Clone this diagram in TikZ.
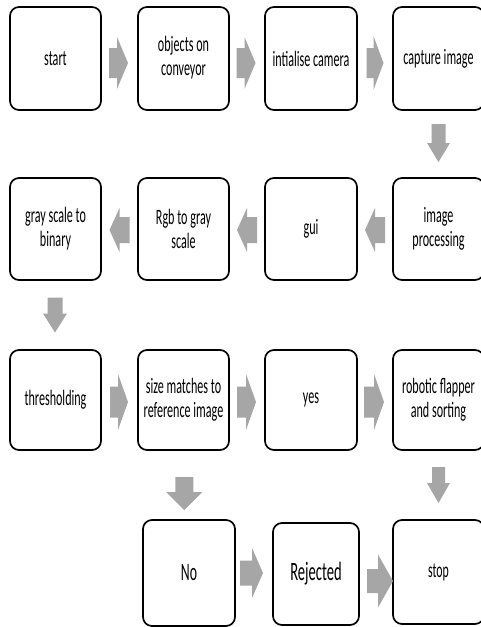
\documentclass[tikz,border=0pt]{standalone}
\usepackage{fontspec}
\setmainfont{Carlito}[FakeStretch=0.55]
\usetikzlibrary{calc}
\definecolor{arrowgray}{RGB}{166,166,166}
\tikzset{
  x=1pt, y=-1pt,
  stepbox/.style={draw=black, line width=1.7pt, rounded corners=9pt, fill=white,
    inner sep=0pt, align=center, font=\fontsize{22}{24}\selectfont},
  blockfill/.style={fill=arrowgray, draw=none}
}
% block arrow centred between two points (plus an offset):
% #1,#2 points, #3 offset, #4 angle, #5 length, #6 shaft half-width,
% #7 head half-width, #8 head length
\newcommand\blockarrow[8]{%
  \fill[blockfill, shift={($(#1)!0.5!(#2)+(#3)$)}, rotate=#4]
    (-#5/2,-#6) -- (#5/2-#8,-#6) -- (#5/2-#8,-#7) -- (#5/2,0)
    -- (#5/2-#8,#7) -- (#5/2-#8,#6) -- (-#5/2,#6) -- cycle;}
\begin{document}
\begin{tikzpicture}
\useasboundingbox (0,0) rectangle (481,627);
\fill[white] (0,0) rectangle (481,627);
% row 1
\node[stepbox, minimum width=91pt, minimum height=103pt] (start)   at (55.5,58.5)  {\raisebox{-3pt}{start}};
\node[stepbox, minimum width=91pt, minimum height=103pt] (objects) at (183.5,58.5) {\raisebox{-3pt}{\begin{tabular}{@{}c@{}}objects on\\conveyor\end{tabular}}};
\node[stepbox, minimum width=92pt, minimum height=103pt] (camera)  at (311,58.5)   {\raisebox{-3pt}{intialise camera}};
\node[stepbox, minimum width=91pt, minimum height=103pt] (capture) at (438.5,58.5) {\raisebox{-3pt}{capture image}};
% row 2
\node[stepbox, minimum width=91pt, minimum height=102pt] (binary)  at (55.5,229)   {gray scale to\\binary};
\node[stepbox, minimum width=91pt, minimum height=102pt] (rgb)     at (183.5,229)  {Rgb to gray\\scale};
\node[stepbox, minimum width=92pt, minimum height=102pt] (gui)     at (311,229)    {gui};
\node[stepbox, minimum width=91pt, minimum height=102pt] (improc)  at (438.5,229)  {image\\processing};
% row 3
\node[stepbox, minimum width=91pt, minimum height=100pt] (thresh)  at (55.5,400)   {thresholding};
\node[stepbox, minimum width=91pt, minimum height=100pt] (size)    at (183.5,400)  {size matches to\\reference image};
\node[stepbox, minimum width=92pt, minimum height=100pt] (yes)     at (311,400)    {yes};
\node[stepbox, minimum width=91pt, minimum height=100pt] (robot)   at (438.5,400)  {robotic flapper\\and sorting};
% row 4
\node[stepbox, minimum width=92pt, minimum height=106pt, font=\fontsize{25}{28}\selectfont] (no) at (189,573) {\raisebox{-9pt}{No}};
\node[stepbox, minimum width=86pt, minimum height=102pt, font=\fontsize{26.5}{30}\selectfont] (rejected) at (316,574) {Rejected};
\node[stepbox, minimum width=91pt, minimum height=104pt, font=\fontsize{21.5}{24}\selectfont] (stop) at (438.5,572) {stop};
% arrows, row 1
\blockarrow{start.east}{objects.west}{-1,4.5}{0}{19}{15}{26}{11}
\blockarrow{objects.east}{camera.west}{-1,4.5}{0}{19}{15}{26}{11}
\blockarrow{camera.east}{capture.west}{0,4.5}{0}{17}{15}{27}{10}
\blockarrow{capture.south}{improc.north}{0,-1}{-90}{38}{7}{11.5}{19}
% row 2
\blockarrow{improc.west}{gui.east}{0,1}{180}{20}{13}{22}{10}
\blockarrow{gui.west}{rgb.east}{0,1}{180}{20}{13}{22}{10}
\blockarrow{rgb.west}{binary.east}{0,1}{180}{20}{13}{22}{10}
\blockarrow{binary.south}{thresh.north}{-0.5,0}{-90}{35}{7.5}{12}{19}
% row 3
\blockarrow{thresh.east}{size.west}{-0.5,2}{0}{18}{15.5}{28}{10}
\blockarrow{size.east}{yes.west}{-0.5,2}{0}{19}{15.5}{28}{10}
\blockarrow{yes.east}{robot.west}{-1,2}{0}{20}{15.5}{28}{10}
\blockarrow{size.south}{no.north}{-2,8.5}{-90}{33}{9}{18}{18}
\blockarrow{robot.south}{stop.north}{0,0}{-90}{36}{6.5}{11.5}{20}
% row 4
\blockarrow{no.east}{rejected.west}{-2.5,-0.5}{0}{23}{12.5}{25}{11}
\blockarrow{rejected.east}{stop.west}{4,8}{0}{26}{12}{26.5}{15}
\end{tikzpicture}
\end{document}
